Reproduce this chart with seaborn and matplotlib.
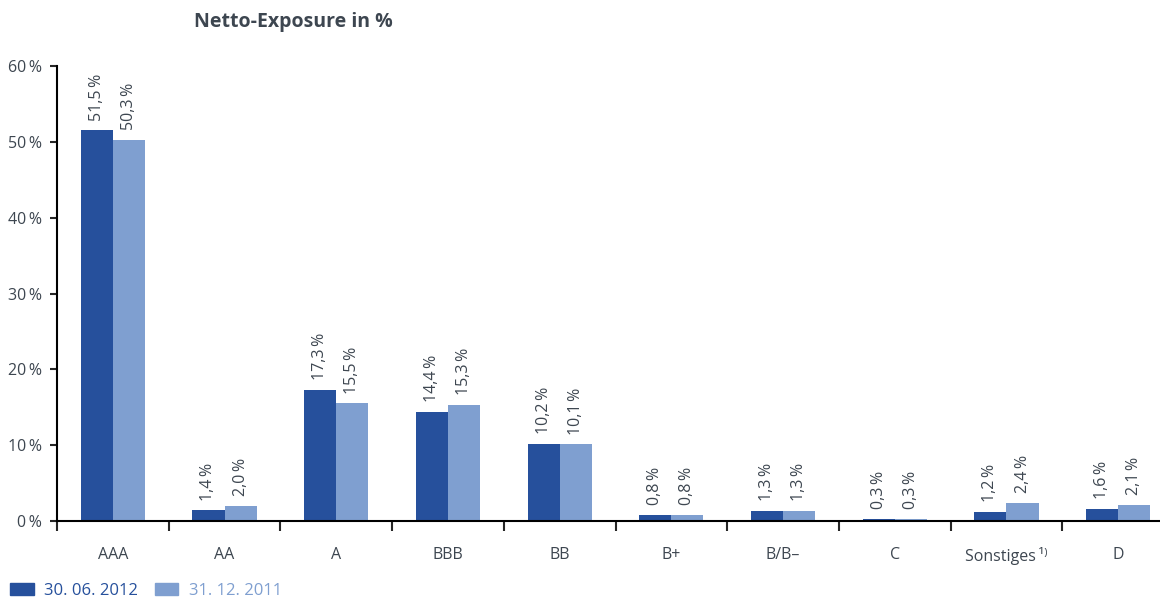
import numpy as np
import pandas as pd
import matplotlib
matplotlib.use("Agg")
import matplotlib.pyplot as plt
from matplotlib.patches import Patch
import seaborn as sns

# data
ratings = ["AAA", "AA", "A", "BBB", "BB", "B+", "B/B\u2013", "C", "Sonstiges\u2009\u00b9\u207e", "D"]
val_2012 = [51.5, 1.4, 17.3, 14.4, 10.2, 0.8, 1.3, 0.3, 1.2, 1.6]
val_2011 = [50.3, 2.0, 15.5, 15.3, 10.1, 0.8, 1.3, 0.3, 2.4, 2.1]
series = ["30. 06. 2012", "31. 12. 2011"]
y_ticks = [0, 10, 20, 30, 40, 50, 60]

dark = "#26509c"
light = "#7f9fd0"
txt = "#3d4650"

sns.set_style("white")
plt.rcParams["font.family"] = ["Open Sans", "DejaVu Sans"]

df = pd.DataFrame({
    "rating": ratings * 2,
    "value": val_2012 + val_2011,
    "series": [series[0]] * len(ratings) + [series[1]] * len(ratings),
})

fig = plt.figure(figsize=(11.6, 6.01), dpi=100)
ax = fig.add_axes([57 / 1160, 80 / 601, 1 - 57 / 1160, (521 - 66) / 601])

sns.barplot(data=df, x="rating", y="value", hue="series", order=ratings,
            hue_order=series, palette=[dark, light], width=0.575,
            saturation=1, linewidth=0, ax=ax, legend=False)

ax.set_xlabel("")
ax.set_ylabel("")

# value labels
for cont in ax.containers:
    for bar in cont:
        h = bar.get_height()
        ax.annotate(f"{h:.1f}".replace(".", ",") + "\u2009%",
                    (bar.get_x() + bar.get_width() / 2, h),
                    xytext=(0, 7), textcoords="offset points",
                    rotation=90, ha="center", va="bottom",
                    fontsize=11.5, color=txt)

# axes styling
for s in ["top", "right"]:
    ax.spines[s].set_visible(False)
for s in ["left", "bottom"]:
    ax.spines[s].set_color("black")
    ax.spines[s].set_linewidth(1.5)

ax.set_yticks(y_ticks)
ax.set_yticklabels([f"{t}\u2009%" for t in y_ticks], color=txt, fontsize=11.5)
ax.tick_params(axis="y", length=5, width=1.5, pad=6, left=True)

ax.set_xticks(range(len(ratings)))
ax.set_xticklabels(ratings, color=txt, fontsize=11.5)
ax.tick_params(axis="x", which="major", length=0, pad=19)
ax.set_xticks(np.arange(-0.5, len(ratings), 1), minor=True)
ax.tick_params(axis="x", which="minor", length=7, width=1.5, bottom=True, direction="out")

# limits last, set_xticks widens the view
ax.set_ylim(0, 60)
ax.set_xlim(-0.5, (1160 - 57) / 111.7 - 0.5)

fig.text(293 / 1160, 1 - 22 / 601, "Netto-Exposure in %", ha="center", va="center",
         fontsize=14, fontweight="bold", color=txt)

handles = [Patch(color=dark), Patch(color=light)]
leg = fig.legend(handles, series, loc="center left", bbox_to_anchor=(0.006, 1 - 591 / 601),
                 ncol=2, frameon=False, fontsize=12, handlelength=1.4,
                 handleheight=0.72, columnspacing=1.0, handletextpad=0.65,
                 borderpad=0.2, borderaxespad=0)
for t, c in zip(leg.get_texts(), [dark, light]):
    t.set_color(c)

fig.savefig("out.png", dpi=100)
